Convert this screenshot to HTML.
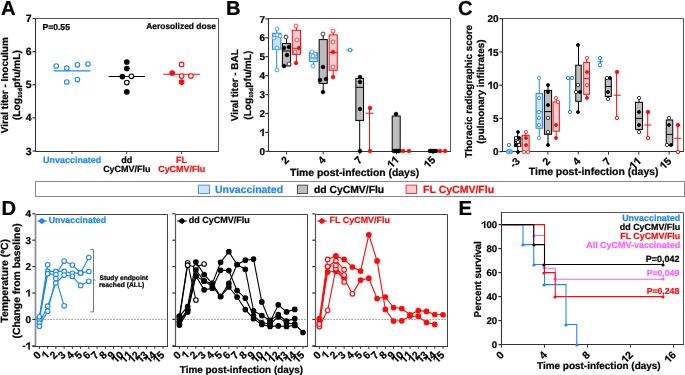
<!DOCTYPE html>
<html><head><meta charset="utf-8"><style>
html,body{margin:0;padding:0;background:#fff;}
svg{display:block;}
#w{will-change:transform;width:685px;height:375px;overflow:hidden;}
text{font-family:"Liberation Sans", sans-serif;text-rendering:geometricPrecision;}
</style></head><body><div id="w">
<svg width="685" height="375" viewBox="0 0 685 375" font-family='"Liberation Sans", sans-serif'>
<rect x="0" y="0" width="685" height="375" fill="#fff"/>
<text x="1" y="14.8" font-size="20.2" fill="#000" text-anchor="start" font-weight="bold"  stroke="#000" stroke-width="0.22">A</text>
<text x="226" y="14.6" font-size="20.2" fill="#000" text-anchor="start" font-weight="bold"  stroke="#000" stroke-width="0.22">B</text>
<text x="458" y="14.8" font-size="20.2" fill="#000" text-anchor="start" font-weight="bold"  stroke="#000" stroke-width="0.22">C</text>
<text x="1.5" y="214.8" font-size="20.2" fill="#000" text-anchor="start" font-weight="bold"  stroke="#000" stroke-width="0.22">D</text>
<text x="458.5" y="214.9" font-size="20.2" fill="#000" text-anchor="start" font-weight="bold"  stroke="#000" stroke-width="0.22">E</text>
<line x1="35.5" y1="18.5" x2="218.5" y2="18.5" stroke="#555" stroke-width="1" />
<line x1="218.5" y1="18.5" x2="218.5" y2="151.5" stroke="#555" stroke-width="1" />
<line x1="35.5" y1="18" x2="35.5" y2="152" stroke="#333" stroke-width="1.1" />
<line x1="35" y1="151.5" x2="219" y2="151.5" stroke="#333" stroke-width="1.1" />
<line x1="32.5" y1="151" x2="35.5" y2="151" stroke="#333" stroke-width="1.2" />
<g transform="translate(31.5 154.6)"><text x="-5.84" y="0" font-size="10.5" font-weight="bold" fill="#000" stroke="#000" stroke-width="0.22">3</text></g>
<line x1="32.5" y1="117.88" x2="35.5" y2="117.88" stroke="#333" stroke-width="1.2" />
<g transform="translate(31.5 121.47)"><text x="-5.84" y="0" font-size="10.5" font-weight="bold" fill="#000" stroke="#000" stroke-width="0.22">4</text></g>
<line x1="32.5" y1="84.75" x2="35.5" y2="84.75" stroke="#333" stroke-width="1.2" />
<g transform="translate(31.5 88.35)"><text x="-5.84" y="0" font-size="10.5" font-weight="bold" fill="#000" stroke="#000" stroke-width="0.22">5</text></g>
<line x1="32.5" y1="51.62" x2="35.5" y2="51.62" stroke="#333" stroke-width="1.2" />
<g transform="translate(31.5 55.23)"><text x="-5.84" y="0" font-size="10.5" font-weight="bold" fill="#000" stroke="#000" stroke-width="0.22">6</text></g>
<line x1="32.5" y1="18.5" x2="35.5" y2="18.5" stroke="#333" stroke-width="1.2" />
<g transform="translate(31.5 22.1)"><text x="-5.84" y="0" font-size="10.5" font-weight="bold" fill="#000" stroke="#000" stroke-width="0.22">7</text></g>
<line x1="72" y1="151" x2="72" y2="154" stroke="#333" stroke-width="1" />
<line x1="126.7" y1="151" x2="126.7" y2="154" stroke="#333" stroke-width="1" />
<line x1="181.6" y1="151" x2="181.6" y2="154" stroke="#333" stroke-width="1" />
<text x="42.44" y="29.8" font-size="8.6" font-weight="bold" fill="#000" stroke="#000" stroke-width="0.22">P=0.55</text>
<text x="146.19" y="29.4" font-size="8.45" font-weight="bold" fill="#000" stroke="#000" stroke-width="0.22">Aerosolized dose</text>
<text transform="translate(8 133.3) rotate(-90)" x="0" y="0" font-size="9.96" font-weight="bold" fill="#000" stroke="#000" stroke-width="0.22">Viral titer - Inoculum</text>
<text transform="translate(20.2 120.11) rotate(-90)" x="0" y="0" font-size="10.23" font-weight="bold" stroke="#000" stroke-width="0.22">(Log<tspan font-size="5.83" dy="2.05">10d</tspan><tspan dy="-2.05" dx="0.31">pfu/mL)</tspan></text>
<text x="43.06" y="162.8" font-size="8.96" font-weight="bold" fill="#1a87ff" stroke="#1a87ff" stroke-width="0.22">Unvaccinated</text>
<text x="121.32" y="162.8" font-size="9" font-weight="bold" fill="#000" stroke="#000" stroke-width="0.22">dd</text>
<text x="103.14" y="172.3" font-size="8.99" font-weight="bold" fill="#000" stroke="#000" stroke-width="0.22">CyCMV/Flu</text>
<text x="175.95" y="162.8" font-size="9" font-weight="bold" fill="#ff0a0a" stroke="#ff0a0a" stroke-width="0.22">FL</text>
<text x="158.24" y="172.3" font-size="8.92" font-weight="bold" fill="#ff0a0a" stroke="#ff0a0a" stroke-width="0.22">CyCMV/Flu</text>
<line x1="54" y1="70.8" x2="90.4" y2="70.8" stroke="#1a87ff" stroke-width="1.3" />
<circle cx="56.2" cy="66" r="2.3" stroke="#1a87ff" fill="#fff" stroke-width="1.1"/>
<circle cx="66.8" cy="68.2" r="2.3" stroke="#1a87ff" fill="#fff" stroke-width="1.1"/>
<circle cx="77.4" cy="64.8" r="2.3" stroke="#1a87ff" fill="#fff" stroke-width="1.1"/>
<circle cx="88" cy="64" r="2.3" stroke="#1a87ff" fill="#fff" stroke-width="1.1"/>
<circle cx="66.8" cy="82" r="2.3" stroke="#1a87ff" fill="#fff" stroke-width="1.1"/>
<circle cx="77.4" cy="79.6" r="2.3" stroke="#1a87ff" fill="#fff" stroke-width="1.1"/>
<line x1="108.8" y1="76.5" x2="145" y2="76.5" stroke="#000" stroke-width="1.1" />
<circle cx="126.8" cy="62" r="2.3" stroke="#000" fill="#000" stroke-width="1.1"/>
<circle cx="126.8" cy="68.5" r="2.3" stroke="#000" fill="#000" stroke-width="1.1"/>
<circle cx="122.4" cy="76.6" r="2.3" stroke="#000" fill="#000" stroke-width="1.1"/>
<circle cx="131.4" cy="76.3" r="2.3" stroke="#000" fill="#fff" stroke-width="1.1"/>
<circle cx="126.8" cy="82.6" r="2.3" stroke="#000" fill="#fff" stroke-width="1.1"/>
<circle cx="126.8" cy="91.8" r="2.3" stroke="#000" fill="#000" stroke-width="1.1"/>
<line x1="163.2" y1="74.2" x2="200" y2="74.2" stroke="#ff0a0a" stroke-width="1.1" />
<circle cx="181.6" cy="64.4" r="2.3" stroke="#ff0a0a" fill="#fff" stroke-width="1.1"/>
<circle cx="172.2" cy="73" r="2.3" stroke="#ff0a0a" fill="#ff0a0a" stroke-width="1.1"/>
<circle cx="181.6" cy="76.1" r="2.3" stroke="#ff0a0a" fill="#fff" stroke-width="1.1"/>
<circle cx="190.9" cy="76.1" r="2.3" stroke="#ff0a0a" fill="#fff" stroke-width="1.1"/>
<circle cx="181.6" cy="82.1" r="2.3" stroke="#ff0a0a" fill="#ff0a0a" stroke-width="1.1"/>
<line x1="268.5" y1="18.5" x2="450.5" y2="18.5" stroke="#555" stroke-width="1" />
<line x1="450.5" y1="18.5" x2="450.5" y2="151.5" stroke="#555" stroke-width="1" />
<line x1="268.5" y1="18" x2="268.5" y2="152" stroke="#333" stroke-width="1.1" />
<line x1="268" y1="151.5" x2="451" y2="151.5" stroke="#333" stroke-width="1.1" />
<line x1="265.3" y1="151.3" x2="268.3" y2="151.3" stroke="#333" stroke-width="1.2" />
<g transform="translate(265 154.9)"><text x="-5.56" y="0" font-size="10" font-weight="bold" fill="#000" stroke="#000" stroke-width="0.22">0</text></g>
<line x1="265.3" y1="132.39" x2="268.3" y2="132.39" stroke="#333" stroke-width="1.2" />
<g transform="translate(265 135.99)"><polygon points="-2.64,0 -1.24,0 -1.24,-7.16 -2.11,-7.16 -4.94,-5.25 -4.94,-3.98 -2.64,-5.52" fill="#000" stroke="#000" stroke-width="0.22"/></g>
<line x1="265.3" y1="113.47" x2="268.3" y2="113.47" stroke="#333" stroke-width="1.2" />
<g transform="translate(265 117.07)"><text x="-5.56" y="0" font-size="10" font-weight="bold" fill="#000" stroke="#000" stroke-width="0.22">2</text></g>
<line x1="265.3" y1="94.56" x2="268.3" y2="94.56" stroke="#333" stroke-width="1.2" />
<g transform="translate(265 98.16)"><text x="-5.56" y="0" font-size="10" font-weight="bold" fill="#000" stroke="#000" stroke-width="0.22">3</text></g>
<line x1="265.3" y1="75.64" x2="268.3" y2="75.64" stroke="#333" stroke-width="1.2" />
<g transform="translate(265 79.24)"><text x="-5.56" y="0" font-size="10" font-weight="bold" fill="#000" stroke="#000" stroke-width="0.22">4</text></g>
<line x1="265.3" y1="56.73" x2="268.3" y2="56.73" stroke="#333" stroke-width="1.2" />
<g transform="translate(265 60.33)"><text x="-5.56" y="0" font-size="10" font-weight="bold" fill="#000" stroke="#000" stroke-width="0.22">5</text></g>
<line x1="265.3" y1="37.81" x2="268.3" y2="37.81" stroke="#333" stroke-width="1.2" />
<g transform="translate(265 41.41)"><text x="-5.56" y="0" font-size="10" font-weight="bold" fill="#000" stroke="#000" stroke-width="0.22">6</text></g>
<line x1="265.3" y1="18.9" x2="268.3" y2="18.9" stroke="#333" stroke-width="1.2" />
<g transform="translate(265 22.5)"><text x="-5.56" y="0" font-size="10" font-weight="bold" fill="#000" stroke="#000" stroke-width="0.22">7</text></g>
<line x1="286.6" y1="151.3" x2="286.6" y2="154.3" stroke="#333" stroke-width="1" />
<g transform="translate(289.7 160.75) rotate(-45)"><text x="-5.84" y="0" font-size="10.5" font-weight="bold" fill="#000" stroke="#000" stroke-width="0.22">2</text></g>
<line x1="323.2" y1="151.3" x2="323.2" y2="154.3" stroke="#333" stroke-width="1" />
<g transform="translate(326.3 160.75) rotate(-45)"><text x="-5.84" y="0" font-size="10.5" font-weight="bold" fill="#000" stroke="#000" stroke-width="0.22">4</text></g>
<line x1="359.8" y1="151.3" x2="359.8" y2="154.3" stroke="#333" stroke-width="1" />
<g transform="translate(362.9 160.75) rotate(-45)"><text x="-5.84" y="0" font-size="10.5" font-weight="bold" fill="#000" stroke="#000" stroke-width="0.22">7</text></g>
<line x1="396.4" y1="151.3" x2="396.4" y2="154.3" stroke="#333" stroke-width="1" />
<g transform="translate(399.5 160.75) rotate(-45)"><polygon points="-8.61,0 -7.14,0 -7.14,-7.52 -8.05,-7.52 -11.03,-5.51 -11.03,-4.18 -8.61,-5.8" fill="#000" stroke="#000" stroke-width="0.22"/><polygon points="-2.77,0 -1.3,0 -1.3,-7.52 -2.22,-7.52 -5.19,-5.51 -5.19,-4.18 -2.77,-5.8" fill="#000" stroke="#000" stroke-width="0.22"/></g>
<line x1="433" y1="151.3" x2="433" y2="154.3" stroke="#333" stroke-width="1" />
<g transform="translate(436.1 160.75) rotate(-45)"><polygon points="-8.61,0 -7.14,0 -7.14,-7.52 -8.05,-7.52 -11.03,-5.51 -11.03,-4.18 -8.61,-5.8" fill="#000" stroke="#000" stroke-width="0.22"/><text x="-5.84" y="0" font-size="10.5" font-weight="bold" fill="#000" stroke="#000" stroke-width="0.22">5</text></g>
<text x="290" y="176" font-size="10.4" font-weight="bold" fill="#000" stroke="#000" stroke-width="0.22">Time post-infection (days)</text>
<text transform="translate(238 121.3) rotate(-90)" x="0" y="0" font-size="9.94" font-weight="bold" fill="#000" stroke="#000" stroke-width="0.22">Viral titer - BAL</text>
<text transform="translate(250.5 119.71) rotate(-90)" x="0" y="0" font-size="10.11" font-weight="bold" stroke="#000" stroke-width="0.22">(Log<tspan font-size="5.76" dy="2.02">10d</tspan><tspan dy="-2.02" dx="0.3">pfu/mL)</tspan></text>
<line x1="276.7" y1="29.2" x2="276.7" y2="33.3" stroke="#1a87ff" stroke-width="1" />
<line x1="276.7" y1="49.3" x2="276.7" y2="70.3" stroke="#1a87ff" stroke-width="1" />
<rect x="272.55" y="33.3" width="8.3" height="16" stroke="#1a87ff" fill="#cfe3fb" stroke-width="1"/>
<line x1="272.55" y1="36.5" x2="280.85" y2="36.5" stroke="#1a87ff" stroke-width="1" />
<circle cx="277" cy="29" r="1.95" stroke="#1a87ff" fill="#fff" stroke-width="0.75"/>
<circle cx="277" cy="35" r="1.95" stroke="#1a87ff" fill="#fff" stroke-width="0.75"/>
<circle cx="280" cy="36" r="1.95" stroke="#1a87ff" fill="#fff" stroke-width="0.75"/>
<circle cx="274" cy="38" r="1.95" stroke="#1a87ff" fill="#fff" stroke-width="0.75"/>
<circle cx="277" cy="48" r="1.95" stroke="#1a87ff" fill="#fff" stroke-width="0.75"/>
<circle cx="277" cy="70" r="1.95" stroke="#1a87ff" fill="#fff" stroke-width="0.75"/>
<line x1="286.5" y1="36.6" x2="286.5" y2="43.5" stroke="#000" stroke-width="1" />
<rect x="282.4" y="43.5" width="8.2" height="22.4" stroke="#000" fill="#bdbdbd" stroke-width="1"/>
<line x1="282.4" y1="51" x2="290.6" y2="51" stroke="#000" stroke-width="1" />
<circle cx="286" cy="37" r="1.95" stroke="#000" fill="#fff" stroke-width="0.75"/>
<circle cx="284" cy="48" r="1.8499999999999999" stroke="#000" fill="#000" stroke-width="0.75"/>
<circle cx="289" cy="47" r="1.8499999999999999" stroke="#000" fill="#000" stroke-width="0.75"/>
<circle cx="287" cy="55" r="1.8499999999999999" stroke="#000" fill="#000" stroke-width="0.75"/>
<circle cx="284" cy="66" r="1.8499999999999999" stroke="#000" fill="#000" stroke-width="0.75"/>
<circle cx="289" cy="64" r="1.95" stroke="#000" fill="#fff" stroke-width="0.75"/>
<line x1="296.4" y1="25.9" x2="296.4" y2="30.3" stroke="#ff0a0a" stroke-width="1" />
<line x1="296.4" y1="54.3" x2="296.4" y2="62.6" stroke="#ff0a0a" stroke-width="1" />
<rect x="292.3" y="30.3" width="8.2" height="24" stroke="#ff0a0a" fill="#fbcfd1" stroke-width="1"/>
<line x1="292.3" y1="48.3" x2="300.5" y2="48.3" stroke="#ff0a0a" stroke-width="1" />
<circle cx="296" cy="26" r="1.95" stroke="#ff0a0a" fill="#fff" stroke-width="0.75"/>
<circle cx="297" cy="40" r="1.95" stroke="#ff0a0a" fill="#fff" stroke-width="0.75"/>
<circle cx="299" cy="48" r="1.8499999999999999" stroke="#ff0a0a" fill="#ff0a0a" stroke-width="0.75"/>
<circle cx="295" cy="52" r="1.95" stroke="#ff0a0a" fill="#fff" stroke-width="0.75"/>
<circle cx="296" cy="63" r="1.8499999999999999" stroke="#ff0a0a" fill="#ff0a0a" stroke-width="0.75"/>
<line x1="313.4" y1="61.6" x2="313.4" y2="66.5" stroke="#1a87ff" stroke-width="1" />
<rect x="309.45" y="52.4" width="7.9" height="9.2" stroke="#1a87ff" fill="#cfe3fb" stroke-width="1"/>
<line x1="309.45" y1="58" x2="317.35" y2="58" stroke="#1a87ff" stroke-width="1" />
<circle cx="312" cy="52" r="1.95" stroke="#1a87ff" fill="#fff" stroke-width="0.75"/>
<circle cx="315" cy="54" r="1.95" stroke="#1a87ff" fill="#fff" stroke-width="0.75"/>
<circle cx="313" cy="56" r="1.95" stroke="#1a87ff" fill="#fff" stroke-width="0.75"/>
<circle cx="313" cy="66" r="1.95" stroke="#1a87ff" fill="#fff" stroke-width="0.75"/>
<line x1="323.2" y1="33.9" x2="323.2" y2="39.6" stroke="#000" stroke-width="1" />
<line x1="323.2" y1="83.4" x2="323.2" y2="92.5" stroke="#000" stroke-width="1" />
<rect x="319.15" y="39.6" width="8.1" height="43.8" stroke="#000" fill="#bdbdbd" stroke-width="1"/>
<circle cx="323" cy="34" r="1.95" stroke="#000" fill="#fff" stroke-width="0.75"/>
<circle cx="323" cy="67" r="1.8499999999999999" stroke="#000" fill="#000" stroke-width="0.75"/>
<circle cx="320" cy="80" r="1.8499999999999999" stroke="#000" fill="#000" stroke-width="0.75"/>
<circle cx="326" cy="79" r="1.8499999999999999" stroke="#000" fill="#000" stroke-width="0.75"/>
<circle cx="323" cy="92" r="1.8499999999999999" stroke="#000" fill="#000" stroke-width="0.75"/>
<line x1="333.2" y1="30.7" x2="333.2" y2="34.9" stroke="#ff0a0a" stroke-width="1" />
<line x1="333.2" y1="70.3" x2="333.2" y2="77.2" stroke="#ff0a0a" stroke-width="1" />
<rect x="329.15" y="34.9" width="8.1" height="35.4" stroke="#ff0a0a" fill="#fbcfd1" stroke-width="1"/>
<line x1="329.15" y1="52.4" x2="337.25" y2="52.4" stroke="#ff0a0a" stroke-width="1" />
<circle cx="333" cy="31" r="1.95" stroke="#ff0a0a" fill="#fff" stroke-width="0.75"/>
<circle cx="333" cy="42" r="1.95" stroke="#ff0a0a" fill="#fff" stroke-width="0.75"/>
<circle cx="333" cy="52" r="1.8499999999999999" stroke="#ff0a0a" fill="#ff0a0a" stroke-width="0.75"/>
<circle cx="333" cy="67" r="1.95" stroke="#ff0a0a" fill="#fff" stroke-width="0.75"/>
<circle cx="333" cy="77" r="1.8499999999999999" stroke="#ff0a0a" fill="#ff0a0a" stroke-width="0.75"/>
<line x1="346.3" y1="49.9" x2="353.3" y2="49.9" stroke="#1a87ff" stroke-width="1" />
<circle cx="350" cy="50" r="1.8" stroke="#1a87ff" fill="#fff" stroke-width="1"/>
<line x1="359.7" y1="76.7" x2="359.7" y2="78.4" stroke="#000" stroke-width="1" />
<line x1="359.7" y1="120.4" x2="359.7" y2="151.3" stroke="#000" stroke-width="1" />
<rect x="355.85" y="78.4" width="7.7" height="42" stroke="#000" fill="#bdbdbd" stroke-width="1"/>
<line x1="355.85" y1="87.3" x2="363.55" y2="87.3" stroke="#000" stroke-width="1" />
<circle cx="360" cy="77" r="1.8499999999999999" stroke="#000" fill="#000" stroke-width="0.75"/>
<circle cx="360" cy="82" r="1.8499999999999999" stroke="#000" fill="#000" stroke-width="0.75"/>
<circle cx="360" cy="109" r="1.8499999999999999" stroke="#000" fill="#000" stroke-width="0.75"/>
<circle cx="360" cy="151" r="1.8499999999999999" stroke="#000" fill="#000" stroke-width="0.75"/>
<line x1="369.5" y1="107.7" x2="369.5" y2="151.3" stroke="#ff0a0a" stroke-width="1" />
<line x1="365.7" y1="113.2" x2="373.6" y2="113.2" stroke="#ff0a0a" stroke-width="1" />
<circle cx="370" cy="108" r="1.8" stroke="#ff0a0a" fill="#ff0a0a" stroke-width="1"/>
<circle cx="370" cy="151" r="1.8" stroke="#ff0a0a" fill="#ff0a0a" stroke-width="1"/>
<line x1="396.2" y1="113.6" x2="396.2" y2="116" stroke="#000" stroke-width="1" />
<rect x="392.2" y="116" width="8" height="35.3" stroke="#000" fill="#bdbdbd" stroke-width="1"/>
<circle cx="396" cy="114" r="1.8499999999999999" stroke="#000" fill="#000" stroke-width="0.75"/>
<circle cx="394" cy="151" r="1.8499999999999999" stroke="#000" fill="#000" stroke-width="0.75"/>
<circle cx="396" cy="151" r="1.8499999999999999" stroke="#000" fill="#000" stroke-width="0.75"/>
<circle cx="398" cy="151" r="1.8499999999999999" stroke="#000" fill="#000" stroke-width="0.75"/>
<circle cx="399" cy="151" r="1.8499999999999999" stroke="#000" fill="#000" stroke-width="0.75"/>
<circle cx="403" cy="151" r="1.8" stroke="#ff0a0a" fill="#ff0a0a" stroke-width="1"/>
<circle cx="409" cy="151" r="1.8" stroke="#ff0a0a" fill="#ff0a0a" stroke-width="1"/>
<circle cx="430" cy="151" r="1.8" stroke="#000" fill="#000" stroke-width="1"/>
<circle cx="432" cy="151" r="1.8" stroke="#000" fill="#000" stroke-width="1"/>
<circle cx="434" cy="151" r="1.8" stroke="#000" fill="#000" stroke-width="1"/>
<circle cx="436" cy="151" r="1.8" stroke="#000" fill="#000" stroke-width="1"/>
<circle cx="440" cy="151" r="1.8" stroke="#ff0a0a" fill="#ff0a0a" stroke-width="1"/>
<circle cx="445" cy="151" r="1.8" stroke="#ff0a0a" fill="#ff0a0a" stroke-width="1"/>
<line x1="502.5" y1="18.5" x2="683.5" y2="18.5" stroke="#555" stroke-width="1" />
<line x1="683.5" y1="18.5" x2="683.5" y2="151.5" stroke="#555" stroke-width="1" />
<line x1="502.5" y1="18" x2="502.5" y2="152" stroke="#333" stroke-width="1.1" />
<line x1="502" y1="151.5" x2="684" y2="151.5" stroke="#333" stroke-width="1.1" />
<line x1="499.4" y1="151.6" x2="502.4" y2="151.6" stroke="#333" stroke-width="1.2" />
<g transform="translate(498.6 155.2)"><text x="-5.56" y="0" font-size="10" font-weight="bold" fill="#000" stroke="#000" stroke-width="0.22">0</text></g>
<line x1="499.4" y1="118.38" x2="502.4" y2="118.38" stroke="#333" stroke-width="1.2" />
<g transform="translate(498.6 121.97)"><text x="-5.56" y="0" font-size="10" font-weight="bold" fill="#000" stroke="#000" stroke-width="0.22">5</text></g>
<line x1="499.4" y1="85.15" x2="502.4" y2="85.15" stroke="#333" stroke-width="1.2" />
<g transform="translate(498.6 88.75)"><polygon points="-8.2,0 -6.8,0 -6.8,-7.16 -7.67,-7.16 -10.5,-5.25 -10.5,-3.98 -8.2,-5.52" fill="#000" stroke="#000" stroke-width="0.22"/><text x="-5.56" y="0" font-size="10" font-weight="bold" fill="#000" stroke="#000" stroke-width="0.22">0</text></g>
<line x1="499.4" y1="51.92" x2="502.4" y2="51.92" stroke="#333" stroke-width="1.2" />
<g transform="translate(498.6 55.52)"><polygon points="-8.2,0 -6.8,0 -6.8,-7.16 -7.67,-7.16 -10.5,-5.25 -10.5,-3.98 -8.2,-5.52" fill="#000" stroke="#000" stroke-width="0.22"/><text x="-5.56" y="0" font-size="10" font-weight="bold" fill="#000" stroke="#000" stroke-width="0.22">5</text></g>
<line x1="499.4" y1="18.7" x2="502.4" y2="18.7" stroke="#333" stroke-width="1.2" />
<g transform="translate(498.6 22.3)"><text x="-11.12" y="0" font-size="10" font-weight="bold" fill="#000" stroke="#000" stroke-width="0.22">2</text><text x="-5.56" y="0" font-size="10" font-weight="bold" fill="#000" stroke="#000" stroke-width="0.22">0</text></g>
<line x1="517.6" y1="151.6" x2="517.6" y2="154.6" stroke="#333" stroke-width="1" />
<g transform="translate(520.5 161.95) rotate(-45)"><text x="-9.33" y="0" font-size="10.5" font-weight="bold" fill="#000" stroke="#000" stroke-width="0.22">-</text><text x="-5.84" y="0" font-size="10.5" font-weight="bold" fill="#000" stroke="#000" stroke-width="0.22">3</text></g>
<line x1="547.9" y1="151.6" x2="547.9" y2="154.6" stroke="#333" stroke-width="1" />
<g transform="translate(550.8 161.95) rotate(-45)"><text x="-5.84" y="0" font-size="10.5" font-weight="bold" fill="#000" stroke="#000" stroke-width="0.22">2</text></g>
<line x1="578.2" y1="151.6" x2="578.2" y2="154.6" stroke="#333" stroke-width="1" />
<g transform="translate(581.1 161.95) rotate(-45)"><text x="-5.84" y="0" font-size="10.5" font-weight="bold" fill="#000" stroke="#000" stroke-width="0.22">4</text></g>
<line x1="608.5" y1="151.6" x2="608.5" y2="154.6" stroke="#333" stroke-width="1" />
<g transform="translate(611.4 161.95) rotate(-45)"><text x="-5.84" y="0" font-size="10.5" font-weight="bold" fill="#000" stroke="#000" stroke-width="0.22">7</text></g>
<line x1="638.8" y1="151.6" x2="638.8" y2="154.6" stroke="#333" stroke-width="1" />
<g transform="translate(641.7 161.95) rotate(-45)"><polygon points="-8.61,0 -7.14,0 -7.14,-7.52 -8.05,-7.52 -11.03,-5.51 -11.03,-4.18 -8.61,-5.8" fill="#000" stroke="#000" stroke-width="0.22"/><polygon points="-2.77,0 -1.3,0 -1.3,-7.52 -2.22,-7.52 -5.19,-5.51 -5.19,-4.18 -2.77,-5.8" fill="#000" stroke="#000" stroke-width="0.22"/></g>
<line x1="669.1" y1="151.6" x2="669.1" y2="154.6" stroke="#333" stroke-width="1" />
<g transform="translate(672 161.95) rotate(-45)"><polygon points="-8.61,0 -7.14,0 -7.14,-7.52 -8.05,-7.52 -11.03,-5.51 -11.03,-4.18 -8.61,-5.8" fill="#000" stroke="#000" stroke-width="0.22"/><text x="-5.84" y="0" font-size="10.5" font-weight="bold" fill="#000" stroke="#000" stroke-width="0.22">5</text></g>
<text x="528.8" y="175.2" font-size="10.44" font-weight="bold" fill="#000" stroke="#000" stroke-width="0.22">Time post-infection (days)</text>
<text transform="translate(472 157.7) rotate(-90)" x="0" y="0" font-size="9.88" font-weight="bold" fill="#000" stroke="#000" stroke-width="0.22">Thoracic radiographic score</text>
<text transform="translate(484 143.69) rotate(-90)" x="0" y="0" font-size="9.89" font-weight="bold" fill="#000" stroke="#000" stroke-width="0.22">(pulmonary infiltrates)</text>
<rect x="506.3" y="149.8" width="6.2" height="3.4" rx="1.7" stroke="#1a87ff" fill="#cfe3fb" stroke-width="1"/>
<circle cx="509" cy="145" r="1.7" stroke="#1a87ff" fill="#fff" stroke-width="1"/>
<circle cx="508" cy="152" r="1.3" stroke="#1a87ff" fill="#fff" stroke-width="1"/>
<circle cx="511" cy="152" r="1.3" stroke="#1a87ff" fill="#fff" stroke-width="1"/>
<line x1="517.7" y1="131.8" x2="517.7" y2="137.2" stroke="#000" stroke-width="1" />
<line x1="517.7" y1="146.4" x2="517.7" y2="151.6" stroke="#000" stroke-width="1" />
<rect x="514.6" y="137.2" width="6.2" height="9.2" stroke="#000" fill="#bdbdbd" stroke-width="1"/>
<line x1="514.6" y1="141.6" x2="520.8" y2="141.6" stroke="#000" stroke-width="1" />
<circle cx="518" cy="132" r="1.5" stroke="#000" fill="#000" stroke-width="0.75"/>
<circle cx="516" cy="138" r="1.6" stroke="#000" fill="#fff" stroke-width="0.75"/>
<circle cx="519" cy="138" r="1.5" stroke="#000" fill="#000" stroke-width="0.75"/>
<circle cx="518" cy="142" r="1.6" stroke="#000" fill="#fff" stroke-width="0.75"/>
<circle cx="516" cy="145" r="1.5" stroke="#000" fill="#000" stroke-width="0.75"/>
<circle cx="519" cy="145" r="1.6" stroke="#000" fill="#fff" stroke-width="0.75"/>
<circle cx="518" cy="152" r="1.5" stroke="#000" fill="#000" stroke-width="0.75"/>
<line x1="525.7" y1="131.8" x2="525.7" y2="135.4" stroke="#ff0a0a" stroke-width="1" />
<rect x="522.25" y="135.4" width="6.9" height="16.2" stroke="#ff0a0a" fill="#fbcfd1" stroke-width="1"/>
<circle cx="526" cy="132" r="1.7" stroke="#ff0a0a" fill="#fff" stroke-width="0.75"/>
<circle cx="526" cy="138" r="1.5999999999999999" stroke="#ff0a0a" fill="#ff0a0a" stroke-width="0.75"/>
<circle cx="526" cy="145" r="1.5999999999999999" stroke="#ff0a0a" fill="#ff0a0a" stroke-width="0.75"/>
<circle cx="524" cy="152" r="1.7" stroke="#ff0a0a" fill="#fff" stroke-width="0.75"/>
<circle cx="528" cy="152" r="1.7" stroke="#ff0a0a" fill="#fff" stroke-width="0.75"/>
<line x1="539.3" y1="78.5" x2="539.3" y2="93.5" stroke="#1a87ff" stroke-width="1" />
<line x1="539.3" y1="128.2" x2="539.3" y2="138.3" stroke="#1a87ff" stroke-width="1" />
<rect x="536.05" y="93.5" width="6.5" height="34.7" stroke="#1a87ff" fill="#cfe3fb" stroke-width="1"/>
<line x1="536.05" y1="111.7" x2="542.55" y2="111.7" stroke="#1a87ff" stroke-width="1" />
<circle cx="539" cy="78" r="1.7" stroke="#1a87ff" fill="#fff" stroke-width="0.75"/>
<circle cx="539" cy="98" r="1.7" stroke="#1a87ff" fill="#fff" stroke-width="0.75"/>
<circle cx="539" cy="112" r="1.7" stroke="#1a87ff" fill="#fff" stroke-width="0.75"/>
<circle cx="539" cy="118" r="1.7" stroke="#1a87ff" fill="#fff" stroke-width="0.75"/>
<circle cx="539" cy="125" r="1.7" stroke="#1a87ff" fill="#fff" stroke-width="0.75"/>
<circle cx="539" cy="138" r="1.7" stroke="#1a87ff" fill="#fff" stroke-width="0.75"/>
<line x1="548" y1="85.1" x2="548" y2="90.4" stroke="#000" stroke-width="1" />
<line x1="548" y1="134.3" x2="548" y2="145" stroke="#000" stroke-width="1" />
<rect x="544.4" y="90.4" width="7.2" height="43.9" stroke="#000" fill="#bdbdbd" stroke-width="1"/>
<line x1="544.4" y1="111.6" x2="551.6" y2="111.6" stroke="#000" stroke-width="1" />
<circle cx="548" cy="85" r="1.5999999999999999" stroke="#000" fill="#000" stroke-width="0.75"/>
<circle cx="548" cy="92" r="1.5999999999999999" stroke="#000" fill="#000" stroke-width="0.75"/>
<circle cx="548" cy="105" r="1.5999999999999999" stroke="#000" fill="#000" stroke-width="0.75"/>
<circle cx="548" cy="118" r="1.7" stroke="#000" fill="#fff" stroke-width="0.75"/>
<circle cx="548" cy="132" r="1.7" stroke="#000" fill="#fff" stroke-width="0.75"/>
<circle cx="548" cy="145" r="1.5999999999999999" stroke="#000" fill="#000" stroke-width="0.75"/>
<line x1="556.2" y1="98.4" x2="556.2" y2="101.9" stroke="#ff0a0a" stroke-width="1" />
<line x1="556.2" y1="131.2" x2="556.2" y2="138.3" stroke="#ff0a0a" stroke-width="1" />
<rect x="553.05" y="101.9" width="6.3" height="29.3" stroke="#ff0a0a" fill="#fbcfd1" stroke-width="1"/>
<circle cx="556" cy="98" r="1.7" stroke="#ff0a0a" fill="#fff" stroke-width="0.75"/>
<circle cx="558" cy="102" r="1.7" stroke="#ff0a0a" fill="#fff" stroke-width="0.75"/>
<circle cx="556" cy="125" r="1.5999999999999999" stroke="#ff0a0a" fill="#ff0a0a" stroke-width="0.75"/>
<circle cx="556" cy="138" r="1.5999999999999999" stroke="#ff0a0a" fill="#ff0a0a" stroke-width="0.75"/>
<line x1="569.8" y1="78.5" x2="569.8" y2="111.7" stroke="#1a87ff" stroke-width="1" />
<circle cx="568" cy="78" r="1.7" stroke="#1a87ff" fill="#fff" stroke-width="1"/>
<circle cx="572" cy="78" r="1.7" stroke="#1a87ff" fill="#fff" stroke-width="1"/>
<circle cx="570" cy="112" r="1.7" stroke="#1a87ff" fill="#fff" stroke-width="1"/>
<line x1="578.5" y1="45.3" x2="578.5" y2="65.2" stroke="#000" stroke-width="1" />
<line x1="578.5" y1="101.3" x2="578.5" y2="111.7" stroke="#000" stroke-width="1" />
<rect x="575.75" y="65.2" width="5.5" height="36.1" stroke="#000" fill="#bdbdbd" stroke-width="1"/>
<line x1="575.75" y1="92.4" x2="581.25" y2="92.4" stroke="#000" stroke-width="1" />
<circle cx="578" cy="45" r="1.5999999999999999" stroke="#000" fill="#000" stroke-width="0.75"/>
<circle cx="578" cy="85" r="1.7" stroke="#000" fill="#fff" stroke-width="0.75"/>
<circle cx="576" cy="92" r="1.7" stroke="#000" fill="#fff" stroke-width="0.75"/>
<circle cx="580" cy="92" r="1.5999999999999999" stroke="#000" fill="#000" stroke-width="0.75"/>
<circle cx="578" cy="112" r="1.5999999999999999" stroke="#000" fill="#000" stroke-width="0.75"/>
<line x1="586.6" y1="58.3" x2="586.6" y2="62.4" stroke="#ff0a0a" stroke-width="1" />
<line x1="586.6" y1="94.3" x2="586.6" y2="98.4" stroke="#ff0a0a" stroke-width="1" />
<rect x="583.7" y="62.4" width="5.8" height="31.9" stroke="#ff0a0a" fill="#fbcfd1" stroke-width="1"/>
<line x1="583.7" y1="78.5" x2="589.5" y2="78.5" stroke="#ff0a0a" stroke-width="1" />
<circle cx="587" cy="58" r="1.7" stroke="#ff0a0a" fill="#fff" stroke-width="0.75"/>
<circle cx="587" cy="72" r="1.5999999999999999" stroke="#ff0a0a" fill="#ff0a0a" stroke-width="0.75"/>
<circle cx="587" cy="85" r="1.7" stroke="#ff0a0a" fill="#fff" stroke-width="0.75"/>
<circle cx="587" cy="98" r="1.5999999999999999" stroke="#ff0a0a" fill="#ff0a0a" stroke-width="0.75"/>
<line x1="600.5" y1="58.3" x2="600.5" y2="65" stroke="#1a87ff" stroke-width="1" />
<line x1="597.8" y1="61.7" x2="603.2" y2="61.7" stroke="#1a87ff" stroke-width="1" />
<circle cx="600" cy="58" r="1.7" stroke="#1a87ff" fill="#fff" stroke-width="1"/>
<circle cx="600" cy="65" r="1.7" stroke="#1a87ff" fill="#fff" stroke-width="1"/>
<line x1="608.3" y1="96.5" x2="608.3" y2="98.9" stroke="#000" stroke-width="1" />
<rect x="605.3" y="78.5" width="6" height="18" stroke="#000" fill="#bdbdbd" stroke-width="1"/>
<line x1="605.3" y1="86.5" x2="611.3" y2="86.5" stroke="#000" stroke-width="1" />
<circle cx="607" cy="78" r="1.7" stroke="#000" fill="#fff" stroke-width="0.75"/>
<circle cx="610" cy="78" r="1.5999999999999999" stroke="#000" fill="#000" stroke-width="0.75"/>
<circle cx="608" cy="92" r="1.5999999999999999" stroke="#000" fill="#000" stroke-width="0.75"/>
<circle cx="608" cy="99" r="1.7" stroke="#000" fill="#fff" stroke-width="0.75"/>
<line x1="616.6" y1="71.9" x2="616.6" y2="118.4" stroke="#ff0a0a" stroke-width="1" />
<line x1="613.7" y1="95.2" x2="620.7" y2="95.2" stroke="#ff0a0a" stroke-width="1" />
<circle cx="617" cy="72" r="1.7" stroke="#ff0a0a" fill="#ff0a0a" stroke-width="1"/>
<circle cx="617" cy="118" r="1.7" stroke="#ff0a0a" fill="#fff" stroke-width="1"/>
<line x1="639" y1="98.2" x2="639" y2="102.3" stroke="#000" stroke-width="1" />
<line x1="639" y1="129.4" x2="639" y2="131.9" stroke="#000" stroke-width="1" />
<rect x="635.5" y="102.3" width="7" height="27.1" stroke="#000" fill="#bdbdbd" stroke-width="1"/>
<line x1="635.5" y1="118.4" x2="642.5" y2="118.4" stroke="#000" stroke-width="1" />
<circle cx="639" cy="98" r="1.7" stroke="#000" fill="#fff" stroke-width="0.75"/>
<circle cx="639" cy="112" r="1.5999999999999999" stroke="#000" fill="#000" stroke-width="0.75"/>
<circle cx="639" cy="125" r="1.5999999999999999" stroke="#000" fill="#000" stroke-width="0.75"/>
<circle cx="639" cy="132" r="1.7" stroke="#000" fill="#fff" stroke-width="0.75"/>
<line x1="647.7" y1="111.7" x2="647.7" y2="138.3" stroke="#ff0a0a" stroke-width="1" />
<line x1="644.4" y1="125" x2="651.3" y2="125" stroke="#ff0a0a" stroke-width="1" />
<circle cx="648" cy="112" r="1.7" stroke="#ff0a0a" fill="#ff0a0a" stroke-width="1"/>
<circle cx="648" cy="138" r="1.7" stroke="#ff0a0a" fill="#fff" stroke-width="1"/>
<line x1="669.5" y1="118.4" x2="669.5" y2="120" stroke="#000" stroke-width="1" />
<rect x="666.25" y="120" width="6.5" height="25.3" stroke="#000" fill="#bdbdbd" stroke-width="1"/>
<line x1="666.25" y1="134.4" x2="672.75" y2="134.4" stroke="#000" stroke-width="1" />
<circle cx="669" cy="118" r="1.7" stroke="#000" fill="#fff" stroke-width="0.75"/>
<circle cx="669" cy="125" r="1.5999999999999999" stroke="#000" fill="#000" stroke-width="0.75"/>
<circle cx="667" cy="145" r="1.7" stroke="#000" fill="#fff" stroke-width="0.75"/>
<circle cx="671" cy="145" r="1.5999999999999999" stroke="#000" fill="#000" stroke-width="0.75"/>
<line x1="677.8" y1="125" x2="677.8" y2="151.6" stroke="#ff0a0a" stroke-width="1" />
<line x1="674.3" y1="138.3" x2="681.1" y2="138.3" stroke="#ff0a0a" stroke-width="1" />
<circle cx="678" cy="125" r="1.7" stroke="#ff0a0a" fill="#ff0a0a" stroke-width="1"/>
<circle cx="678" cy="152" r="1.7" stroke="#ff0a0a" fill="#fff" stroke-width="1"/>
<rect x="35.5" y="181.5" width="649" height="15" stroke="#8a8a8a" fill="none" stroke-width="1"/>
<rect x="198.6" y="185.1" width="10.8" height="8.3" stroke="#1a87ff" fill="#cfe3fb" stroke-width="0.8"/>
<text x="215.07" y="192.5" font-size="10.46" font-weight="bold" fill="#1a87ff" stroke="#1a87ff" stroke-width="0.22">Unvaccinated</text>
<rect x="297.4" y="185.1" width="10.2" height="8.3" stroke="#333" fill="#bdbdbd" stroke-width="0.8"/>
<text x="313.99" y="192.5" font-size="10.37" font-weight="bold" fill="#000" stroke="#000" stroke-width="0.22">dd CyCMV/Flu</text>
<rect x="406.1" y="185.1" width="10.5" height="8.3" stroke="#ff0a0a" fill="#fbcfd1" stroke-width="0.8"/>
<text x="423.12" y="192.5" font-size="10.5" font-weight="bold" fill="#ff0a0a" stroke="#ff0a0a" stroke-width="0.22">FL CyCMV/Flu</text>
<line x1="35.5" y1="214.5" x2="167.5" y2="214.5" stroke="#444" stroke-width="1" />
<line x1="167.5" y1="214.5" x2="167.5" y2="346.5" stroke="#444" stroke-width="1" />
<line x1="35.5" y1="214" x2="35.5" y2="347" stroke="#8c8c8c" stroke-width="1.7" />
<line x1="32.5" y1="346.5" x2="168" y2="346.5" stroke="#333" stroke-width="1.1" />
<line x1="32.3" y1="345.8" x2="35.3" y2="345.8" stroke="#333" stroke-width="1.2" />
<g transform="translate(31 349.4)"><text x="-8.89" y="0" font-size="10" font-weight="bold" fill="#000" stroke="#000" stroke-width="0.22">-</text><polygon points="-2.64,0 -1.24,0 -1.24,-7.16 -2.11,-7.16 -4.94,-5.25 -4.94,-3.98 -2.64,-5.52" fill="#000" stroke="#000" stroke-width="0.22"/></g>
<line x1="32.3" y1="319.4" x2="35.3" y2="319.4" stroke="#333" stroke-width="1.2" />
<g transform="translate(31 323)"><text x="-5.56" y="0" font-size="10" font-weight="bold" fill="#000" stroke="#000" stroke-width="0.22">0</text></g>
<line x1="32.3" y1="293" x2="35.3" y2="293" stroke="#333" stroke-width="1.2" />
<g transform="translate(31 296.6)"><polygon points="-2.64,0 -1.24,0 -1.24,-7.16 -2.11,-7.16 -4.94,-5.25 -4.94,-3.98 -2.64,-5.52" fill="#000" stroke="#000" stroke-width="0.22"/></g>
<line x1="32.3" y1="266.6" x2="35.3" y2="266.6" stroke="#333" stroke-width="1.2" />
<g transform="translate(31 270.2)"><text x="-5.56" y="0" font-size="10" font-weight="bold" fill="#000" stroke="#000" stroke-width="0.22">2</text></g>
<line x1="32.3" y1="240.2" x2="35.3" y2="240.2" stroke="#333" stroke-width="1.2" />
<g transform="translate(31 243.8)"><text x="-5.56" y="0" font-size="10" font-weight="bold" fill="#000" stroke="#000" stroke-width="0.22">3</text></g>
<line x1="32.3" y1="213.8" x2="35.3" y2="213.8" stroke="#333" stroke-width="1.2" />
<g transform="translate(31 217.4)"><text x="-5.56" y="0" font-size="10" font-weight="bold" fill="#000" stroke="#000" stroke-width="0.22">4</text></g>
<line x1="35.3" y1="319.4" x2="167.3" y2="319.4" stroke="#777" stroke-width="0.8" stroke-dasharray="1.6 1.4"/>
<line x1="39.4" y1="346.4" x2="39.4" y2="348.9" stroke="#333" stroke-width="1" />
<g transform="translate(41.6 355.6) rotate(-45)"><text x="-5.84" y="0" font-size="10.5" font-weight="bold" fill="#000" stroke="#000" stroke-width="0.22">0</text></g>
<line x1="47.64" y1="346.4" x2="47.64" y2="348.9" stroke="#333" stroke-width="1" />
<g transform="translate(49.84 355.6) rotate(-45)"><polygon points="-2.77,0 -1.3,0 -1.3,-7.52 -2.22,-7.52 -5.19,-5.51 -5.19,-4.18 -2.77,-5.8" fill="#000" stroke="#000" stroke-width="0.22"/></g>
<line x1="55.88" y1="346.4" x2="55.88" y2="348.9" stroke="#333" stroke-width="1" />
<g transform="translate(58.08 355.6) rotate(-45)"><text x="-5.84" y="0" font-size="10.5" font-weight="bold" fill="#000" stroke="#000" stroke-width="0.22">2</text></g>
<line x1="64.12" y1="346.4" x2="64.12" y2="348.9" stroke="#333" stroke-width="1" />
<g transform="translate(66.32 355.6) rotate(-45)"><text x="-5.84" y="0" font-size="10.5" font-weight="bold" fill="#000" stroke="#000" stroke-width="0.22">3</text></g>
<line x1="72.36" y1="346.4" x2="72.36" y2="348.9" stroke="#333" stroke-width="1" />
<g transform="translate(74.56 355.6) rotate(-45)"><text x="-5.84" y="0" font-size="10.5" font-weight="bold" fill="#000" stroke="#000" stroke-width="0.22">4</text></g>
<line x1="80.6" y1="346.4" x2="80.6" y2="348.9" stroke="#333" stroke-width="1" />
<g transform="translate(82.8 355.6) rotate(-45)"><text x="-5.84" y="0" font-size="10.5" font-weight="bold" fill="#000" stroke="#000" stroke-width="0.22">5</text></g>
<line x1="88.84" y1="346.4" x2="88.84" y2="348.9" stroke="#333" stroke-width="1" />
<g transform="translate(91.04 355.6) rotate(-45)"><text x="-5.84" y="0" font-size="10.5" font-weight="bold" fill="#000" stroke="#000" stroke-width="0.22">6</text></g>
<line x1="97.08" y1="346.4" x2="97.08" y2="348.9" stroke="#333" stroke-width="1" />
<g transform="translate(99.28 355.6) rotate(-45)"><text x="-5.84" y="0" font-size="10.5" font-weight="bold" fill="#000" stroke="#000" stroke-width="0.22">7</text></g>
<line x1="105.32" y1="346.4" x2="105.32" y2="348.9" stroke="#333" stroke-width="1" />
<g transform="translate(107.52 355.6) rotate(-45)"><text x="-5.84" y="0" font-size="10.5" font-weight="bold" fill="#000" stroke="#000" stroke-width="0.22">8</text></g>
<line x1="113.56" y1="346.4" x2="113.56" y2="348.9" stroke="#333" stroke-width="1" />
<g transform="translate(115.76 355.6) rotate(-45)"><text x="-5.84" y="0" font-size="10.5" font-weight="bold" fill="#000" stroke="#000" stroke-width="0.22">9</text></g>
<line x1="121.8" y1="346.4" x2="121.8" y2="348.9" stroke="#333" stroke-width="1" />
<g transform="translate(124 355.6) rotate(-45)"><polygon points="-8.61,0 -7.14,0 -7.14,-7.52 -8.05,-7.52 -11.03,-5.51 -11.03,-4.18 -8.61,-5.8" fill="#000" stroke="#000" stroke-width="0.22"/><text x="-5.84" y="0" font-size="10.5" font-weight="bold" fill="#000" stroke="#000" stroke-width="0.22">0</text></g>
<line x1="130.04" y1="346.4" x2="130.04" y2="348.9" stroke="#333" stroke-width="1" />
<g transform="translate(132.24 355.6) rotate(-45)"><polygon points="-8.61,0 -7.14,0 -7.14,-7.52 -8.05,-7.52 -11.03,-5.51 -11.03,-4.18 -8.61,-5.8" fill="#000" stroke="#000" stroke-width="0.22"/><polygon points="-2.77,0 -1.3,0 -1.3,-7.52 -2.22,-7.52 -5.19,-5.51 -5.19,-4.18 -2.77,-5.8" fill="#000" stroke="#000" stroke-width="0.22"/></g>
<line x1="138.28" y1="346.4" x2="138.28" y2="348.9" stroke="#333" stroke-width="1" />
<g transform="translate(140.48 355.6) rotate(-45)"><polygon points="-8.61,0 -7.14,0 -7.14,-7.52 -8.05,-7.52 -11.03,-5.51 -11.03,-4.18 -8.61,-5.8" fill="#000" stroke="#000" stroke-width="0.22"/><text x="-5.84" y="0" font-size="10.5" font-weight="bold" fill="#000" stroke="#000" stroke-width="0.22">2</text></g>
<line x1="146.52" y1="346.4" x2="146.52" y2="348.9" stroke="#333" stroke-width="1" />
<g transform="translate(148.72 355.6) rotate(-45)"><polygon points="-8.61,0 -7.14,0 -7.14,-7.52 -8.05,-7.52 -11.03,-5.51 -11.03,-4.18 -8.61,-5.8" fill="#000" stroke="#000" stroke-width="0.22"/><text x="-5.84" y="0" font-size="10.5" font-weight="bold" fill="#000" stroke="#000" stroke-width="0.22">3</text></g>
<line x1="154.76" y1="346.4" x2="154.76" y2="348.9" stroke="#333" stroke-width="1" />
<g transform="translate(156.96 355.6) rotate(-45)"><polygon points="-8.61,0 -7.14,0 -7.14,-7.52 -8.05,-7.52 -11.03,-5.51 -11.03,-4.18 -8.61,-5.8" fill="#000" stroke="#000" stroke-width="0.22"/><text x="-5.84" y="0" font-size="10.5" font-weight="bold" fill="#000" stroke="#000" stroke-width="0.22">4</text></g>
<line x1="163" y1="346.4" x2="163" y2="348.9" stroke="#333" stroke-width="1" />
<g transform="translate(165.2 355.6) rotate(-45)"><polygon points="-8.61,0 -7.14,0 -7.14,-7.52 -8.05,-7.52 -11.03,-5.51 -11.03,-4.18 -8.61,-5.8" fill="#000" stroke="#000" stroke-width="0.22"/><text x="-5.84" y="0" font-size="10.5" font-weight="bold" fill="#000" stroke="#000" stroke-width="0.22">5</text></g>
<line x1="37.3" y1="221" x2="46.7" y2="221" stroke="#1a87ff" stroke-width="1.2" />
<circle cx="41.9" cy="221" r="2.3" stroke="#1a87ff" fill="#1a87ff" stroke-width="1"/>
<text x="48.67" y="223.2" font-size="8.85" font-weight="bold" fill="#1a87ff" stroke="#1a87ff" stroke-width="0.22">Unvaccinated</text>
<polyline points="39.4,317.6 47.64,271.4 55.88,271.4 64.12,271.4 72.36,273.3 80.6,272.9 88.84,271.5" stroke="#1a87ff" fill="none" stroke-width="1.1"/>
<polyline points="39.4,319.8 47.64,273.7 55.88,274.6 64.12,261.1 72.36,265 80.6,272.9 88.84,257.5" stroke="#1a87ff" fill="none" stroke-width="1.1"/>
<polyline points="39.4,323.2 47.64,306.2 55.88,283 64.12,275.1 72.36,276.3 80.6,285.4 88.84,281.3" stroke="#1a87ff" fill="none" stroke-width="1.1"/>
<polyline points="39.4,326.2 47.64,311.2 55.88,278.4 64.12,305.8" stroke="#1a87ff" fill="none" stroke-width="1.1"/>
<polyline points="39.4,316.8 47.64,264.8" stroke="#1a87ff" fill="none" stroke-width="1.1"/>
<circle cx="39.4" cy="317.6" r="2.3" stroke="#1a87ff" fill="#fff" stroke-width="1.1"/>
<circle cx="47.64" cy="271.4" r="2.3" stroke="#1a87ff" fill="#fff" stroke-width="1.1"/>
<circle cx="55.88" cy="271.4" r="2.3" stroke="#1a87ff" fill="#fff" stroke-width="1.1"/>
<circle cx="64.12" cy="271.4" r="2.3" stroke="#1a87ff" fill="#fff" stroke-width="1.1"/>
<circle cx="72.36" cy="273.3" r="2.3" stroke="#1a87ff" fill="#fff" stroke-width="1.1"/>
<circle cx="80.6" cy="272.9" r="2.3" stroke="#1a87ff" fill="#fff" stroke-width="1.1"/>
<circle cx="88.84" cy="271.5" r="2.3" stroke="#1a87ff" fill="#fff" stroke-width="1.1"/>
<circle cx="39.4" cy="319.8" r="2.3" stroke="#1a87ff" fill="#fff" stroke-width="1.1"/>
<circle cx="47.64" cy="273.7" r="2.3" stroke="#1a87ff" fill="#fff" stroke-width="1.1"/>
<circle cx="55.88" cy="274.6" r="2.3" stroke="#1a87ff" fill="#fff" stroke-width="1.1"/>
<circle cx="64.12" cy="261.1" r="2.3" stroke="#1a87ff" fill="#fff" stroke-width="1.1"/>
<circle cx="72.36" cy="265" r="2.3" stroke="#1a87ff" fill="#fff" stroke-width="1.1"/>
<circle cx="80.6" cy="272.9" r="2.3" stroke="#1a87ff" fill="#fff" stroke-width="1.1"/>
<circle cx="88.84" cy="257.5" r="2.3" stroke="#1a87ff" fill="#fff" stroke-width="1.1"/>
<circle cx="39.4" cy="323.2" r="2.3" stroke="#1a87ff" fill="#fff" stroke-width="1.1"/>
<circle cx="47.64" cy="306.2" r="2.3" stroke="#1a87ff" fill="#fff" stroke-width="1.1"/>
<circle cx="55.88" cy="283" r="2.3" stroke="#1a87ff" fill="#fff" stroke-width="1.1"/>
<circle cx="64.12" cy="275.1" r="2.3" stroke="#1a87ff" fill="#fff" stroke-width="1.1"/>
<circle cx="72.36" cy="276.3" r="2.3" stroke="#1a87ff" fill="#fff" stroke-width="1.1"/>
<circle cx="80.6" cy="285.4" r="2.3" stroke="#1a87ff" fill="#fff" stroke-width="1.1"/>
<circle cx="88.84" cy="281.3" r="2.3" stroke="#1a87ff" fill="#fff" stroke-width="1.1"/>
<circle cx="39.4" cy="326.2" r="2.3" stroke="#1a87ff" fill="#fff" stroke-width="1.1"/>
<circle cx="47.64" cy="311.2" r="2.3" stroke="#1a87ff" fill="#fff" stroke-width="1.1"/>
<circle cx="55.88" cy="278.4" r="2.3" stroke="#1a87ff" fill="#fff" stroke-width="1.1"/>
<circle cx="64.12" cy="305.8" r="2.3" stroke="#1a87ff" fill="#fff" stroke-width="1.1"/>
<circle cx="39.4" cy="316.8" r="2.3" stroke="#1a87ff" fill="#fff" stroke-width="1.1"/>
<circle cx="47.64" cy="264.8" r="2.3" stroke="#1a87ff" fill="#fff" stroke-width="1.1"/>
<polyline points="90.3,249.6 93.5,249.6 93.5,311.9 90.3,311.9" stroke="#777" fill="none" stroke-width="1"/>
<line x1="93.5" y1="280.1" x2="95.7" y2="280.1" stroke="#777" stroke-width="1" />
<text x="99.6" y="279.8" font-size="6.66" font-weight="bold" fill="#000" stroke="#000" stroke-width="0.22">Study endpoint</text>
<text x="98.96" y="286.5" font-size="6.75" font-weight="bold" fill="#000" stroke="#000" stroke-width="0.22">reached (ALL)</text>
<line x1="175.5" y1="214.5" x2="307.5" y2="214.5" stroke="#444" stroke-width="1" />
<line x1="307.5" y1="214.5" x2="307.5" y2="346.5" stroke="#444" stroke-width="1" />
<line x1="175.5" y1="214" x2="175.5" y2="347" stroke="#555" stroke-width="1.2" />
<line x1="172.5" y1="346.5" x2="308" y2="346.5" stroke="#333" stroke-width="1.1" />
<line x1="172.3" y1="345.8" x2="175.3" y2="345.8" stroke="#333" stroke-width="1.2" />
<line x1="172.3" y1="319.4" x2="175.3" y2="319.4" stroke="#333" stroke-width="1.2" />
<line x1="172.3" y1="293" x2="175.3" y2="293" stroke="#333" stroke-width="1.2" />
<line x1="172.3" y1="266.6" x2="175.3" y2="266.6" stroke="#333" stroke-width="1.2" />
<line x1="172.3" y1="240.2" x2="175.3" y2="240.2" stroke="#333" stroke-width="1.2" />
<line x1="172.3" y1="213.8" x2="175.3" y2="213.8" stroke="#333" stroke-width="1.2" />
<line x1="175.3" y1="319.4" x2="307.3" y2="319.4" stroke="#777" stroke-width="0.8" stroke-dasharray="1.6 1.4"/>
<line x1="179.4" y1="346.4" x2="179.4" y2="348.9" stroke="#333" stroke-width="1" />
<g transform="translate(181.6 355.6) rotate(-45)"><text x="-5.84" y="0" font-size="10.5" font-weight="bold" fill="#000" stroke="#000" stroke-width="0.22">0</text></g>
<line x1="187.64" y1="346.4" x2="187.64" y2="348.9" stroke="#333" stroke-width="1" />
<g transform="translate(189.84 355.6) rotate(-45)"><polygon points="-2.77,0 -1.3,0 -1.3,-7.52 -2.22,-7.52 -5.19,-5.51 -5.19,-4.18 -2.77,-5.8" fill="#000" stroke="#000" stroke-width="0.22"/></g>
<line x1="195.88" y1="346.4" x2="195.88" y2="348.9" stroke="#333" stroke-width="1" />
<g transform="translate(198.08 355.6) rotate(-45)"><text x="-5.84" y="0" font-size="10.5" font-weight="bold" fill="#000" stroke="#000" stroke-width="0.22">2</text></g>
<line x1="204.12" y1="346.4" x2="204.12" y2="348.9" stroke="#333" stroke-width="1" />
<g transform="translate(206.32 355.6) rotate(-45)"><text x="-5.84" y="0" font-size="10.5" font-weight="bold" fill="#000" stroke="#000" stroke-width="0.22">3</text></g>
<line x1="212.36" y1="346.4" x2="212.36" y2="348.9" stroke="#333" stroke-width="1" />
<g transform="translate(214.56 355.6) rotate(-45)"><text x="-5.84" y="0" font-size="10.5" font-weight="bold" fill="#000" stroke="#000" stroke-width="0.22">4</text></g>
<line x1="220.6" y1="346.4" x2="220.6" y2="348.9" stroke="#333" stroke-width="1" />
<g transform="translate(222.8 355.6) rotate(-45)"><text x="-5.84" y="0" font-size="10.5" font-weight="bold" fill="#000" stroke="#000" stroke-width="0.22">5</text></g>
<line x1="228.84" y1="346.4" x2="228.84" y2="348.9" stroke="#333" stroke-width="1" />
<g transform="translate(231.04 355.6) rotate(-45)"><text x="-5.84" y="0" font-size="10.5" font-weight="bold" fill="#000" stroke="#000" stroke-width="0.22">6</text></g>
<line x1="237.08" y1="346.4" x2="237.08" y2="348.9" stroke="#333" stroke-width="1" />
<g transform="translate(239.28 355.6) rotate(-45)"><text x="-5.84" y="0" font-size="10.5" font-weight="bold" fill="#000" stroke="#000" stroke-width="0.22">7</text></g>
<line x1="245.32" y1="346.4" x2="245.32" y2="348.9" stroke="#333" stroke-width="1" />
<g transform="translate(247.52 355.6) rotate(-45)"><text x="-5.84" y="0" font-size="10.5" font-weight="bold" fill="#000" stroke="#000" stroke-width="0.22">8</text></g>
<line x1="253.56" y1="346.4" x2="253.56" y2="348.9" stroke="#333" stroke-width="1" />
<g transform="translate(255.76 355.6) rotate(-45)"><text x="-5.84" y="0" font-size="10.5" font-weight="bold" fill="#000" stroke="#000" stroke-width="0.22">9</text></g>
<line x1="261.8" y1="346.4" x2="261.8" y2="348.9" stroke="#333" stroke-width="1" />
<g transform="translate(264 355.6) rotate(-45)"><polygon points="-8.61,0 -7.14,0 -7.14,-7.52 -8.05,-7.52 -11.03,-5.51 -11.03,-4.18 -8.61,-5.8" fill="#000" stroke="#000" stroke-width="0.22"/><text x="-5.84" y="0" font-size="10.5" font-weight="bold" fill="#000" stroke="#000" stroke-width="0.22">0</text></g>
<line x1="270.04" y1="346.4" x2="270.04" y2="348.9" stroke="#333" stroke-width="1" />
<g transform="translate(272.24 355.6) rotate(-45)"><polygon points="-8.61,0 -7.14,0 -7.14,-7.52 -8.05,-7.52 -11.03,-5.51 -11.03,-4.18 -8.61,-5.8" fill="#000" stroke="#000" stroke-width="0.22"/><polygon points="-2.77,0 -1.3,0 -1.3,-7.52 -2.22,-7.52 -5.19,-5.51 -5.19,-4.18 -2.77,-5.8" fill="#000" stroke="#000" stroke-width="0.22"/></g>
<line x1="278.28" y1="346.4" x2="278.28" y2="348.9" stroke="#333" stroke-width="1" />
<g transform="translate(280.48 355.6) rotate(-45)"><polygon points="-8.61,0 -7.14,0 -7.14,-7.52 -8.05,-7.52 -11.03,-5.51 -11.03,-4.18 -8.61,-5.8" fill="#000" stroke="#000" stroke-width="0.22"/><text x="-5.84" y="0" font-size="10.5" font-weight="bold" fill="#000" stroke="#000" stroke-width="0.22">2</text></g>
<line x1="286.52" y1="346.4" x2="286.52" y2="348.9" stroke="#333" stroke-width="1" />
<g transform="translate(288.72 355.6) rotate(-45)"><polygon points="-8.61,0 -7.14,0 -7.14,-7.52 -8.05,-7.52 -11.03,-5.51 -11.03,-4.18 -8.61,-5.8" fill="#000" stroke="#000" stroke-width="0.22"/><text x="-5.84" y="0" font-size="10.5" font-weight="bold" fill="#000" stroke="#000" stroke-width="0.22">3</text></g>
<line x1="294.76" y1="346.4" x2="294.76" y2="348.9" stroke="#333" stroke-width="1" />
<g transform="translate(296.96 355.6) rotate(-45)"><polygon points="-8.61,0 -7.14,0 -7.14,-7.52 -8.05,-7.52 -11.03,-5.51 -11.03,-4.18 -8.61,-5.8" fill="#000" stroke="#000" stroke-width="0.22"/><text x="-5.84" y="0" font-size="10.5" font-weight="bold" fill="#000" stroke="#000" stroke-width="0.22">4</text></g>
<line x1="303" y1="346.4" x2="303" y2="348.9" stroke="#333" stroke-width="1" />
<g transform="translate(305.2 355.6) rotate(-45)"><polygon points="-8.61,0 -7.14,0 -7.14,-7.52 -8.05,-7.52 -11.03,-5.51 -11.03,-4.18 -8.61,-5.8" fill="#000" stroke="#000" stroke-width="0.22"/><text x="-5.84" y="0" font-size="10.5" font-weight="bold" fill="#000" stroke="#000" stroke-width="0.22">5</text></g>
<line x1="177.3" y1="221" x2="186.7" y2="221" stroke="#000" stroke-width="1.2" />
<circle cx="181.9" cy="221" r="2.3" stroke="#000" fill="#000" stroke-width="1"/>
<text x="188.64" y="223.2" font-size="9.03" font-weight="bold" fill="#000" stroke="#000" stroke-width="0.22">dd CyCMV/Flu</text>
<polyline points="179.4,316.3 187.64,262.8 195.88,300" stroke="#000" fill="none" stroke-width="1.1"/>
<polyline points="179.4,318.7 187.64,265.2 195.88,267 204.12,264" stroke="#000" fill="none" stroke-width="1.1"/>
<polyline points="179.4,316.3 187.64,306.7 195.88,262 204.12,274.6 212.36,283.4 220.6,262.3 228.84,251.7 237.08,264.5 245.32,269.3 253.56,310.8 261.8,315.6 270.04,320.4 278.28,314.7 286.52,321.1 294.76,318.7" stroke="#000" fill="none" stroke-width="1.1"/>
<polyline points="179.4,321.5 187.64,309.5 195.88,270 204.12,281 212.36,286.3 220.6,296.5 228.84,283.4 237.08,264.5 245.32,260.2 253.56,259.2 261.8,301.9 270.04,322 278.28,304.8 286.52,311.9 294.76,309.4" stroke="#000" fill="none" stroke-width="1.1"/>
<polyline points="179.4,325.1 187.64,312 195.88,276 204.12,289.8 212.36,288.2 220.6,270.3 228.84,270.6 237.08,290.6 245.32,298.1 253.56,315.6 261.8,322.8 270.04,324 278.28,316.9 286.52,323.3 294.76,324 303,332.5" stroke="#000" fill="none" stroke-width="1.1"/>
<polyline points="179.4,323 187.64,310 195.88,276 204.12,281 212.36,283.4 220.6,296.5 228.84,287 237.08,297 245.32,309.6 253.56,318.7 261.8,324.5 270.04,326.4 278.28,325.9 286.52,326.5 294.76,325.4" stroke="#000" fill="none" stroke-width="1.1"/>
<circle cx="179.4" cy="316.3" r="2.3" stroke="#000" fill="#fff" stroke-width="1.1"/>
<circle cx="187.64" cy="262.8" r="2.3" stroke="#000" fill="#fff" stroke-width="1.1"/>
<circle cx="195.88" cy="300" r="2.3" stroke="#000" fill="#fff" stroke-width="1.1"/>
<circle cx="179.4" cy="318.7" r="2.3" stroke="#000" fill="#fff" stroke-width="1.1"/>
<circle cx="187.64" cy="265.2" r="2.3" stroke="#000" fill="#fff" stroke-width="1.1"/>
<circle cx="195.88" cy="267" r="2.3" stroke="#000" fill="#fff" stroke-width="1.1"/>
<circle cx="204.12" cy="264" r="2.3" stroke="#000" fill="#fff" stroke-width="1.1"/>
<circle cx="179.4" cy="316.3" r="2.3" stroke="#000" fill="#000" stroke-width="1.1"/>
<circle cx="187.64" cy="306.7" r="2.3" stroke="#000" fill="#000" stroke-width="1.1"/>
<circle cx="195.88" cy="262" r="2.3" stroke="#000" fill="#000" stroke-width="1.1"/>
<circle cx="204.12" cy="274.6" r="2.3" stroke="#000" fill="#000" stroke-width="1.1"/>
<circle cx="212.36" cy="283.4" r="2.3" stroke="#000" fill="#000" stroke-width="1.1"/>
<circle cx="220.6" cy="262.3" r="2.3" stroke="#000" fill="#000" stroke-width="1.1"/>
<circle cx="228.84" cy="251.7" r="2.3" stroke="#000" fill="#000" stroke-width="1.1"/>
<circle cx="237.08" cy="264.5" r="2.3" stroke="#000" fill="#000" stroke-width="1.1"/>
<circle cx="245.32" cy="269.3" r="2.3" stroke="#000" fill="#000" stroke-width="1.1"/>
<circle cx="253.56" cy="310.8" r="2.3" stroke="#000" fill="#000" stroke-width="1.1"/>
<circle cx="261.8" cy="315.6" r="2.3" stroke="#000" fill="#000" stroke-width="1.1"/>
<circle cx="270.04" cy="320.4" r="2.3" stroke="#000" fill="#000" stroke-width="1.1"/>
<circle cx="278.28" cy="314.7" r="2.3" stroke="#000" fill="#000" stroke-width="1.1"/>
<circle cx="286.52" cy="321.1" r="2.3" stroke="#000" fill="#000" stroke-width="1.1"/>
<circle cx="294.76" cy="318.7" r="2.3" stroke="#000" fill="#000" stroke-width="1.1"/>
<circle cx="179.4" cy="321.5" r="2.3" stroke="#000" fill="#000" stroke-width="1.1"/>
<circle cx="187.64" cy="309.5" r="2.3" stroke="#000" fill="#000" stroke-width="1.1"/>
<circle cx="195.88" cy="270" r="2.3" stroke="#000" fill="#000" stroke-width="1.1"/>
<circle cx="204.12" cy="281" r="2.3" stroke="#000" fill="#000" stroke-width="1.1"/>
<circle cx="212.36" cy="286.3" r="2.3" stroke="#000" fill="#000" stroke-width="1.1"/>
<circle cx="220.6" cy="296.5" r="2.3" stroke="#000" fill="#000" stroke-width="1.1"/>
<circle cx="228.84" cy="283.4" r="2.3" stroke="#000" fill="#000" stroke-width="1.1"/>
<circle cx="237.08" cy="264.5" r="2.3" stroke="#000" fill="#000" stroke-width="1.1"/>
<circle cx="245.32" cy="260.2" r="2.3" stroke="#000" fill="#000" stroke-width="1.1"/>
<circle cx="253.56" cy="259.2" r="2.3" stroke="#000" fill="#000" stroke-width="1.1"/>
<circle cx="261.8" cy="301.9" r="2.3" stroke="#000" fill="#000" stroke-width="1.1"/>
<circle cx="270.04" cy="322" r="2.3" stroke="#000" fill="#000" stroke-width="1.1"/>
<circle cx="278.28" cy="304.8" r="2.3" stroke="#000" fill="#000" stroke-width="1.1"/>
<circle cx="286.52" cy="311.9" r="2.3" stroke="#000" fill="#000" stroke-width="1.1"/>
<circle cx="294.76" cy="309.4" r="2.3" stroke="#000" fill="#000" stroke-width="1.1"/>
<circle cx="179.4" cy="325.1" r="2.3" stroke="#000" fill="#000" stroke-width="1.1"/>
<circle cx="187.64" cy="312" r="2.3" stroke="#000" fill="#000" stroke-width="1.1"/>
<circle cx="195.88" cy="276" r="2.3" stroke="#000" fill="#000" stroke-width="1.1"/>
<circle cx="204.12" cy="289.8" r="2.3" stroke="#000" fill="#000" stroke-width="1.1"/>
<circle cx="212.36" cy="288.2" r="2.3" stroke="#000" fill="#000" stroke-width="1.1"/>
<circle cx="220.6" cy="270.3" r="2.3" stroke="#000" fill="#000" stroke-width="1.1"/>
<circle cx="228.84" cy="270.6" r="2.3" stroke="#000" fill="#000" stroke-width="1.1"/>
<circle cx="237.08" cy="290.6" r="2.3" stroke="#000" fill="#000" stroke-width="1.1"/>
<circle cx="245.32" cy="298.1" r="2.3" stroke="#000" fill="#000" stroke-width="1.1"/>
<circle cx="253.56" cy="315.6" r="2.3" stroke="#000" fill="#000" stroke-width="1.1"/>
<circle cx="261.8" cy="322.8" r="2.3" stroke="#000" fill="#000" stroke-width="1.1"/>
<circle cx="270.04" cy="324" r="2.3" stroke="#000" fill="#000" stroke-width="1.1"/>
<circle cx="278.28" cy="316.9" r="2.3" stroke="#000" fill="#000" stroke-width="1.1"/>
<circle cx="286.52" cy="323.3" r="2.3" stroke="#000" fill="#000" stroke-width="1.1"/>
<circle cx="294.76" cy="324" r="2.3" stroke="#000" fill="#000" stroke-width="1.1"/>
<circle cx="303" cy="332.5" r="2.3" stroke="#000" fill="#000" stroke-width="1.1"/>
<circle cx="179.4" cy="323" r="2.3" stroke="#000" fill="#000" stroke-width="1.1"/>
<circle cx="187.64" cy="310" r="2.3" stroke="#000" fill="#000" stroke-width="1.1"/>
<circle cx="195.88" cy="276" r="2.3" stroke="#000" fill="#000" stroke-width="1.1"/>
<circle cx="204.12" cy="281" r="2.3" stroke="#000" fill="#000" stroke-width="1.1"/>
<circle cx="212.36" cy="283.4" r="2.3" stroke="#000" fill="#000" stroke-width="1.1"/>
<circle cx="220.6" cy="296.5" r="2.3" stroke="#000" fill="#000" stroke-width="1.1"/>
<circle cx="228.84" cy="287" r="2.3" stroke="#000" fill="#000" stroke-width="1.1"/>
<circle cx="237.08" cy="297" r="2.3" stroke="#000" fill="#000" stroke-width="1.1"/>
<circle cx="245.32" cy="309.6" r="2.3" stroke="#000" fill="#000" stroke-width="1.1"/>
<circle cx="253.56" cy="318.7" r="2.3" stroke="#000" fill="#000" stroke-width="1.1"/>
<circle cx="261.8" cy="324.5" r="2.3" stroke="#000" fill="#000" stroke-width="1.1"/>
<circle cx="270.04" cy="326.4" r="2.3" stroke="#000" fill="#000" stroke-width="1.1"/>
<circle cx="278.28" cy="325.9" r="2.3" stroke="#000" fill="#000" stroke-width="1.1"/>
<circle cx="286.52" cy="326.5" r="2.3" stroke="#000" fill="#000" stroke-width="1.1"/>
<circle cx="294.76" cy="325.4" r="2.3" stroke="#000" fill="#000" stroke-width="1.1"/>
<line x1="315.5" y1="214.5" x2="447.5" y2="214.5" stroke="#444" stroke-width="1" />
<line x1="447.5" y1="214.5" x2="447.5" y2="346.5" stroke="#444" stroke-width="1" />
<line x1="315.5" y1="214" x2="315.5" y2="347" stroke="#555" stroke-width="1.2" />
<line x1="312.5" y1="346.5" x2="448" y2="346.5" stroke="#333" stroke-width="1.1" />
<line x1="312.3" y1="345.8" x2="315.3" y2="345.8" stroke="#333" stroke-width="1.2" />
<line x1="312.3" y1="319.4" x2="315.3" y2="319.4" stroke="#333" stroke-width="1.2" />
<line x1="312.3" y1="293" x2="315.3" y2="293" stroke="#333" stroke-width="1.2" />
<line x1="312.3" y1="266.6" x2="315.3" y2="266.6" stroke="#333" stroke-width="1.2" />
<line x1="312.3" y1="240.2" x2="315.3" y2="240.2" stroke="#333" stroke-width="1.2" />
<line x1="312.3" y1="213.8" x2="315.3" y2="213.8" stroke="#333" stroke-width="1.2" />
<line x1="315.3" y1="319.4" x2="447.3" y2="319.4" stroke="#777" stroke-width="0.8" stroke-dasharray="1.6 1.4"/>
<line x1="319.4" y1="346.4" x2="319.4" y2="348.9" stroke="#333" stroke-width="1" />
<g transform="translate(321.6 355.6) rotate(-45)"><text x="-5.84" y="0" font-size="10.5" font-weight="bold" fill="#000" stroke="#000" stroke-width="0.22">0</text></g>
<line x1="327.64" y1="346.4" x2="327.64" y2="348.9" stroke="#333" stroke-width="1" />
<g transform="translate(329.84 355.6) rotate(-45)"><polygon points="-2.77,0 -1.3,0 -1.3,-7.52 -2.22,-7.52 -5.19,-5.51 -5.19,-4.18 -2.77,-5.8" fill="#000" stroke="#000" stroke-width="0.22"/></g>
<line x1="335.88" y1="346.4" x2="335.88" y2="348.9" stroke="#333" stroke-width="1" />
<g transform="translate(338.08 355.6) rotate(-45)"><text x="-5.84" y="0" font-size="10.5" font-weight="bold" fill="#000" stroke="#000" stroke-width="0.22">2</text></g>
<line x1="344.12" y1="346.4" x2="344.12" y2="348.9" stroke="#333" stroke-width="1" />
<g transform="translate(346.32 355.6) rotate(-45)"><text x="-5.84" y="0" font-size="10.5" font-weight="bold" fill="#000" stroke="#000" stroke-width="0.22">3</text></g>
<line x1="352.36" y1="346.4" x2="352.36" y2="348.9" stroke="#333" stroke-width="1" />
<g transform="translate(354.56 355.6) rotate(-45)"><text x="-5.84" y="0" font-size="10.5" font-weight="bold" fill="#000" stroke="#000" stroke-width="0.22">4</text></g>
<line x1="360.6" y1="346.4" x2="360.6" y2="348.9" stroke="#333" stroke-width="1" />
<g transform="translate(362.8 355.6) rotate(-45)"><text x="-5.84" y="0" font-size="10.5" font-weight="bold" fill="#000" stroke="#000" stroke-width="0.22">5</text></g>
<line x1="368.84" y1="346.4" x2="368.84" y2="348.9" stroke="#333" stroke-width="1" />
<g transform="translate(371.04 355.6) rotate(-45)"><text x="-5.84" y="0" font-size="10.5" font-weight="bold" fill="#000" stroke="#000" stroke-width="0.22">6</text></g>
<line x1="377.08" y1="346.4" x2="377.08" y2="348.9" stroke="#333" stroke-width="1" />
<g transform="translate(379.28 355.6) rotate(-45)"><text x="-5.84" y="0" font-size="10.5" font-weight="bold" fill="#000" stroke="#000" stroke-width="0.22">7</text></g>
<line x1="385.32" y1="346.4" x2="385.32" y2="348.9" stroke="#333" stroke-width="1" />
<g transform="translate(387.52 355.6) rotate(-45)"><text x="-5.84" y="0" font-size="10.5" font-weight="bold" fill="#000" stroke="#000" stroke-width="0.22">8</text></g>
<line x1="393.56" y1="346.4" x2="393.56" y2="348.9" stroke="#333" stroke-width="1" />
<g transform="translate(395.76 355.6) rotate(-45)"><text x="-5.84" y="0" font-size="10.5" font-weight="bold" fill="#000" stroke="#000" stroke-width="0.22">9</text></g>
<line x1="401.8" y1="346.4" x2="401.8" y2="348.9" stroke="#333" stroke-width="1" />
<g transform="translate(404 355.6) rotate(-45)"><polygon points="-8.61,0 -7.14,0 -7.14,-7.52 -8.05,-7.52 -11.03,-5.51 -11.03,-4.18 -8.61,-5.8" fill="#000" stroke="#000" stroke-width="0.22"/><text x="-5.84" y="0" font-size="10.5" font-weight="bold" fill="#000" stroke="#000" stroke-width="0.22">0</text></g>
<line x1="410.04" y1="346.4" x2="410.04" y2="348.9" stroke="#333" stroke-width="1" />
<g transform="translate(412.24 355.6) rotate(-45)"><polygon points="-8.61,0 -7.14,0 -7.14,-7.52 -8.05,-7.52 -11.03,-5.51 -11.03,-4.18 -8.61,-5.8" fill="#000" stroke="#000" stroke-width="0.22"/><polygon points="-2.77,0 -1.3,0 -1.3,-7.52 -2.22,-7.52 -5.19,-5.51 -5.19,-4.18 -2.77,-5.8" fill="#000" stroke="#000" stroke-width="0.22"/></g>
<line x1="418.28" y1="346.4" x2="418.28" y2="348.9" stroke="#333" stroke-width="1" />
<g transform="translate(420.48 355.6) rotate(-45)"><polygon points="-8.61,0 -7.14,0 -7.14,-7.52 -8.05,-7.52 -11.03,-5.51 -11.03,-4.18 -8.61,-5.8" fill="#000" stroke="#000" stroke-width="0.22"/><text x="-5.84" y="0" font-size="10.5" font-weight="bold" fill="#000" stroke="#000" stroke-width="0.22">2</text></g>
<line x1="426.52" y1="346.4" x2="426.52" y2="348.9" stroke="#333" stroke-width="1" />
<g transform="translate(428.72 355.6) rotate(-45)"><polygon points="-8.61,0 -7.14,0 -7.14,-7.52 -8.05,-7.52 -11.03,-5.51 -11.03,-4.18 -8.61,-5.8" fill="#000" stroke="#000" stroke-width="0.22"/><text x="-5.84" y="0" font-size="10.5" font-weight="bold" fill="#000" stroke="#000" stroke-width="0.22">3</text></g>
<line x1="434.76" y1="346.4" x2="434.76" y2="348.9" stroke="#333" stroke-width="1" />
<g transform="translate(436.96 355.6) rotate(-45)"><polygon points="-8.61,0 -7.14,0 -7.14,-7.52 -8.05,-7.52 -11.03,-5.51 -11.03,-4.18 -8.61,-5.8" fill="#000" stroke="#000" stroke-width="0.22"/><text x="-5.84" y="0" font-size="10.5" font-weight="bold" fill="#000" stroke="#000" stroke-width="0.22">4</text></g>
<line x1="443" y1="346.4" x2="443" y2="348.9" stroke="#333" stroke-width="1" />
<g transform="translate(445.2 355.6) rotate(-45)"><polygon points="-8.61,0 -7.14,0 -7.14,-7.52 -8.05,-7.52 -11.03,-5.51 -11.03,-4.18 -8.61,-5.8" fill="#000" stroke="#000" stroke-width="0.22"/><text x="-5.84" y="0" font-size="10.5" font-weight="bold" fill="#000" stroke="#000" stroke-width="0.22">5</text></g>
<line x1="317.3" y1="221" x2="326.7" y2="221" stroke="#ff0a0a" stroke-width="1.2" />
<circle cx="321.9" cy="221" r="2.3" stroke="#ff0a0a" fill="#ff0a0a" stroke-width="1"/>
<text x="329.62" y="223.2" font-size="8.93" font-weight="bold" fill="#ff0a0a" stroke="#ff0a0a" stroke-width="0.22">FL CyCMV/Flu</text>
<polyline points="319.4,318.7 327.64,259.4 335.88,255.9 344.12,259.4 352.36,267 360.6,271.1 368.84,234.8 377.08,260.9 385.32,309.4 393.56,321 401.8,320.8 410.04,316 418.28,316.2 426.52,322.6 434.76,324.4" stroke="#ff0a0a" fill="none" stroke-width="1.1"/>
<polyline points="319.4,322.1 327.64,271.9 335.88,271.3 344.12,278.3 352.36,293.8 360.6,280.1 368.84,278.2 377.08,298.6 385.32,297 393.56,307.6 401.8,308.5 410.04,314.8 418.28,310.6 426.52,311.4 434.76,314.5 443,314.8" stroke="#ff0a0a" fill="none" stroke-width="1.1"/>
<polyline points="319.4,324.8 327.64,266.5 335.88,260.7 344.12,269.7" stroke="#ff0a0a" fill="none" stroke-width="1.1"/>
<polyline points="319.4,326.6 327.64,310.3 335.88,268.7 344.12,275.1" stroke="#ff0a0a" fill="none" stroke-width="1.1"/>
<polyline points="319.4,324 327.64,266.5 335.88,265.5 344.12,282" stroke="#ff0a0a" fill="none" stroke-width="1.1"/>
<circle cx="319.4" cy="318.7" r="2.3" stroke="#ff0a0a" fill="#ff0a0a" stroke-width="1.1"/>
<circle cx="327.64" cy="259.4" r="2.3" stroke="#ff0a0a" fill="#fff" stroke-width="1.1"/>
<circle cx="335.88" cy="255.9" r="2.3" stroke="#ff0a0a" fill="#ff0a0a" stroke-width="1.1"/>
<circle cx="344.12" cy="259.4" r="2.3" stroke="#ff0a0a" fill="#ff0a0a" stroke-width="1.1"/>
<circle cx="352.36" cy="267" r="2.3" stroke="#ff0a0a" fill="#ff0a0a" stroke-width="1.1"/>
<circle cx="360.6" cy="271.1" r="2.3" stroke="#ff0a0a" fill="#ff0a0a" stroke-width="1.1"/>
<circle cx="368.84" cy="234.8" r="2.3" stroke="#ff0a0a" fill="#ff0a0a" stroke-width="1.1"/>
<circle cx="377.08" cy="260.9" r="2.3" stroke="#ff0a0a" fill="#ff0a0a" stroke-width="1.1"/>
<circle cx="385.32" cy="309.4" r="2.3" stroke="#ff0a0a" fill="#ff0a0a" stroke-width="1.1"/>
<circle cx="393.56" cy="321" r="2.3" stroke="#ff0a0a" fill="#ff0a0a" stroke-width="1.1"/>
<circle cx="401.8" cy="320.8" r="2.3" stroke="#ff0a0a" fill="#ff0a0a" stroke-width="1.1"/>
<circle cx="410.04" cy="316" r="2.3" stroke="#ff0a0a" fill="#ff0a0a" stroke-width="1.1"/>
<circle cx="418.28" cy="316.2" r="2.3" stroke="#ff0a0a" fill="#ff0a0a" stroke-width="1.1"/>
<circle cx="426.52" cy="322.6" r="2.3" stroke="#ff0a0a" fill="#ff0a0a" stroke-width="1.1"/>
<circle cx="434.76" cy="324.4" r="2.3" stroke="#ff0a0a" fill="#ff0a0a" stroke-width="1.1"/>
<circle cx="319.4" cy="322.1" r="2.3" stroke="#ff0a0a" fill="#ff0a0a" stroke-width="1.1"/>
<circle cx="327.64" cy="271.9" r="2.3" stroke="#ff0a0a" fill="#ff0a0a" stroke-width="1.1"/>
<circle cx="335.88" cy="271.3" r="2.3" stroke="#ff0a0a" fill="#ff0a0a" stroke-width="1.1"/>
<circle cx="344.12" cy="278.3" r="2.3" stroke="#ff0a0a" fill="#ff0a0a" stroke-width="1.1"/>
<circle cx="352.36" cy="293.8" r="2.3" stroke="#ff0a0a" fill="#fff" stroke-width="1.1"/>
<circle cx="360.6" cy="280.1" r="2.3" stroke="#ff0a0a" fill="#ff0a0a" stroke-width="1.1"/>
<circle cx="368.84" cy="278.2" r="2.3" stroke="#ff0a0a" fill="#ff0a0a" stroke-width="1.1"/>
<circle cx="377.08" cy="298.6" r="2.3" stroke="#ff0a0a" fill="#ff0a0a" stroke-width="1.1"/>
<circle cx="385.32" cy="297" r="2.3" stroke="#ff0a0a" fill="#ff0a0a" stroke-width="1.1"/>
<circle cx="393.56" cy="307.6" r="2.3" stroke="#ff0a0a" fill="#ff0a0a" stroke-width="1.1"/>
<circle cx="401.8" cy="308.5" r="2.3" stroke="#ff0a0a" fill="#ff0a0a" stroke-width="1.1"/>
<circle cx="410.04" cy="314.8" r="2.3" stroke="#ff0a0a" fill="#ff0a0a" stroke-width="1.1"/>
<circle cx="418.28" cy="310.6" r="2.3" stroke="#ff0a0a" fill="#ff0a0a" stroke-width="1.1"/>
<circle cx="426.52" cy="311.4" r="2.3" stroke="#ff0a0a" fill="#ff0a0a" stroke-width="1.1"/>
<circle cx="434.76" cy="314.5" r="2.3" stroke="#ff0a0a" fill="#ff0a0a" stroke-width="1.1"/>
<circle cx="443" cy="314.8" r="2.3" stroke="#ff0a0a" fill="#ff0a0a" stroke-width="1.1"/>
<circle cx="319.4" cy="324.8" r="2.3" stroke="#ff0a0a" fill="#fff" stroke-width="1.1"/>
<circle cx="327.64" cy="266.5" r="2.3" stroke="#ff0a0a" fill="#fff" stroke-width="1.1"/>
<circle cx="335.88" cy="260.7" r="2.3" stroke="#ff0a0a" fill="#fff" stroke-width="1.1"/>
<circle cx="344.12" cy="269.7" r="2.3" stroke="#ff0a0a" fill="#fff" stroke-width="1.1"/>
<circle cx="319.4" cy="326.6" r="2.3" stroke="#ff0a0a" fill="#fff" stroke-width="1.1"/>
<circle cx="327.64" cy="310.3" r="2.3" stroke="#ff0a0a" fill="#fff" stroke-width="1.1"/>
<circle cx="335.88" cy="268.7" r="2.3" stroke="#ff0a0a" fill="#fff" stroke-width="1.1"/>
<circle cx="344.12" cy="275.1" r="2.3" stroke="#ff0a0a" fill="#fff" stroke-width="1.1"/>
<circle cx="319.4" cy="324" r="2.3" stroke="#ff0a0a" fill="#fff" stroke-width="1.1"/>
<circle cx="327.64" cy="266.5" r="2.3" stroke="#ff0a0a" fill="#fff" stroke-width="1.1"/>
<circle cx="335.88" cy="265.5" r="2.3" stroke="#ff0a0a" fill="#fff" stroke-width="1.1"/>
<circle cx="344.12" cy="282" r="2.3" stroke="#ff0a0a" fill="#fff" stroke-width="1.1"/>
<text x="179.8" y="372.6" font-size="9.93" font-weight="bold" fill="#000" stroke="#000" stroke-width="0.22">Time post-infection (days)</text>
<text transform="translate(7.5 322.7) rotate(-90)" x="0" y="0" font-size="10.45" font-weight="bold" fill="#000" stroke="#000" stroke-width="0.22">Temperature (ºC)</text>
<text transform="translate(20.3 338.52) rotate(-90)" x="0" y="0" font-size="10.36" font-weight="bold" fill="#000" stroke="#000" stroke-width="0.22">(Change from baseline)</text>
<line x1="501.5" y1="212.5" x2="683.5" y2="212.5" stroke="#555" stroke-width="1" />
<line x1="683.5" y1="212.5" x2="683.5" y2="344.5" stroke="#555" stroke-width="1" />
<line x1="501.5" y1="212" x2="501.5" y2="345" stroke="#333" stroke-width="1.1" />
<line x1="501" y1="344.5" x2="684" y2="344.5" stroke="#333" stroke-width="1.1" />
<line x1="498.5" y1="344.6" x2="501.5" y2="344.6" stroke="#333" stroke-width="1.2" />
<g transform="translate(497.2 348.1)"><text x="-5.34" y="0" font-size="9.6" font-weight="bold" fill="#000" stroke="#000" stroke-width="0.22">0</text></g>
<line x1="498.5" y1="320.6" x2="501.5" y2="320.6" stroke="#333" stroke-width="1.2" />
<g transform="translate(497.2 324.1)"><text x="-10.68" y="0" font-size="9.6" font-weight="bold" fill="#000" stroke="#000" stroke-width="0.22">2</text><text x="-5.34" y="0" font-size="9.6" font-weight="bold" fill="#000" stroke="#000" stroke-width="0.22">0</text></g>
<line x1="498.5" y1="296.6" x2="501.5" y2="296.6" stroke="#333" stroke-width="1.2" />
<g transform="translate(497.2 300.1)"><text x="-10.68" y="0" font-size="9.6" font-weight="bold" fill="#000" stroke="#000" stroke-width="0.22">4</text><text x="-5.34" y="0" font-size="9.6" font-weight="bold" fill="#000" stroke="#000" stroke-width="0.22">0</text></g>
<line x1="498.5" y1="272.6" x2="501.5" y2="272.6" stroke="#333" stroke-width="1.2" />
<g transform="translate(497.2 276.1)"><text x="-10.68" y="0" font-size="9.6" font-weight="bold" fill="#000" stroke="#000" stroke-width="0.22">6</text><text x="-5.34" y="0" font-size="9.6" font-weight="bold" fill="#000" stroke="#000" stroke-width="0.22">0</text></g>
<line x1="498.5" y1="248.6" x2="501.5" y2="248.6" stroke="#333" stroke-width="1.2" />
<g transform="translate(497.2 252.1)"><text x="-10.68" y="0" font-size="9.6" font-weight="bold" fill="#000" stroke="#000" stroke-width="0.22">8</text><text x="-5.34" y="0" font-size="9.6" font-weight="bold" fill="#000" stroke="#000" stroke-width="0.22">0</text></g>
<line x1="498.5" y1="224.6" x2="501.5" y2="224.6" stroke="#333" stroke-width="1.2" />
<g transform="translate(497.2 228.1)"><polygon points="-13.21,0 -11.87,0 -11.87,-6.87 -12.7,-6.87 -15.42,-5.04 -15.42,-3.82 -13.21,-5.3" fill="#000" stroke="#000" stroke-width="0.22"/><text x="-10.68" y="0" font-size="9.6" font-weight="bold" fill="#000" stroke="#000" stroke-width="0.22">0</text><text x="-5.34" y="0" font-size="9.6" font-weight="bold" fill="#000" stroke="#000" stroke-width="0.22">0</text></g>
<line x1="501.5" y1="344.6" x2="501.5" y2="347.6" stroke="#333" stroke-width="1" />
<g transform="translate(504.7 355.7) rotate(-45)"><text x="-5.84" y="0" font-size="10.5" font-weight="bold" fill="#000" stroke="#000" stroke-width="0.22">0</text></g>
<line x1="544.5" y1="344.6" x2="544.5" y2="347.6" stroke="#333" stroke-width="1" />
<g transform="translate(547.7 355.7) rotate(-45)"><text x="-5.84" y="0" font-size="10.5" font-weight="bold" fill="#000" stroke="#000" stroke-width="0.22">4</text></g>
<line x1="587.5" y1="344.6" x2="587.5" y2="347.6" stroke="#333" stroke-width="1" />
<g transform="translate(590.7 355.7) rotate(-45)"><text x="-5.84" y="0" font-size="10.5" font-weight="bold" fill="#000" stroke="#000" stroke-width="0.22">8</text></g>
<line x1="630.5" y1="344.6" x2="630.5" y2="347.6" stroke="#333" stroke-width="1" />
<g transform="translate(633.7 355.7) rotate(-45)"><polygon points="-8.61,0 -7.14,0 -7.14,-7.52 -8.05,-7.52 -11.03,-5.51 -11.03,-4.18 -8.61,-5.8" fill="#000" stroke="#000" stroke-width="0.22"/><text x="-5.84" y="0" font-size="10.5" font-weight="bold" fill="#000" stroke="#000" stroke-width="0.22">2</text></g>
<line x1="673.5" y1="344.6" x2="673.5" y2="347.6" stroke="#333" stroke-width="1" />
<g transform="translate(676.7 355.7) rotate(-45)"><polygon points="-8.61,0 -7.14,0 -7.14,-7.52 -8.05,-7.52 -11.03,-5.51 -11.03,-4.18 -8.61,-5.8" fill="#000" stroke="#000" stroke-width="0.22"/><text x="-5.84" y="0" font-size="10.5" font-weight="bold" fill="#000" stroke="#000" stroke-width="0.22">6</text></g>
<text x="537.1" y="369.4" font-size="9.95" font-weight="bold" fill="#000" stroke="#000" stroke-width="0.22">Time post-infection (days)</text>
<text transform="translate(481 317.44) rotate(-90)" x="0" y="0" font-size="9.88" font-weight="bold" fill="#000" stroke="#000" stroke-width="0.22">Percent survival</text>
<polyline points="501.5,224.6 523,224.6 523,244.64 533.75,244.64 533.75,264.56 544.5,264.56 544.5,284.6 566,284.6 566,324.56 576.75,324.56 576.75,344.6" stroke="#1a87ff" fill="none" stroke-width="1.05"/>
<circle cx="523" cy="245" r="1.6" stroke="#1a87ff" fill="#1a87ff" stroke-width="0"/>
<circle cx="534" cy="265" r="1.6" stroke="#1a87ff" fill="#1a87ff" stroke-width="0"/>
<circle cx="544" cy="285" r="1.6" stroke="#1a87ff" fill="#1a87ff" stroke-width="0"/>
<circle cx="566" cy="325" r="1.6" stroke="#1a87ff" fill="#1a87ff" stroke-width="0"/>
<circle cx="577" cy="345" r="1.6" stroke="#1a87ff" fill="#1a87ff" stroke-width="0"/>
<polyline points="501.5,224.6 533.75,224.6 533.75,235.52 544.5,235.52 544.5,268.28 555.25,268.28 555.25,279.2 662.75,279.2" stroke="#ff5cff" fill="none" stroke-width="1.05"/>
<circle cx="534" cy="236" r="1.6" stroke="#ff5cff" fill="#ff5cff" stroke-width="0"/>
<circle cx="544" cy="268" r="1.6" stroke="#ff5cff" fill="#ff5cff" stroke-width="0"/>
<circle cx="555" cy="279" r="1.6" stroke="#ff5cff" fill="#ff5cff" stroke-width="0"/>
<circle cx="663" cy="279" r="1.6" stroke="#ff5cff" fill="#ff5cff" stroke-width="0"/>
<polyline points="501.5,224.6 544.5,224.6 544.5,272.6 555.25,272.6 555.25,296.6 662.75,296.6" stroke="#ff0a0a" fill="none" stroke-width="1.05"/>
<circle cx="544" cy="273" r="1.6" stroke="#ff0a0a" fill="#ff0a0a" stroke-width="0"/>
<circle cx="555" cy="297" r="1.6" stroke="#ff0a0a" fill="#ff0a0a" stroke-width="0"/>
<circle cx="663" cy="297" r="1.6" stroke="#ff0a0a" fill="#ff0a0a" stroke-width="0"/>
<polyline points="501.5,224.6 533.75,224.6 533.75,244.64 544.5,244.64 544.5,264.56 662.75,264.56" stroke="#000" fill="none" stroke-width="1.05"/>
<circle cx="534" cy="245" r="1.6" stroke="#000" fill="#000" stroke-width="0"/>
<circle cx="544" cy="265" r="1.6" stroke="#000" fill="#000" stroke-width="0"/>
<circle cx="663" cy="265" r="1.6" stroke="#000" fill="#000" stroke-width="0"/>
<text x="622.16" y="220.7" font-size="8.94" font-weight="bold" fill="#1a87ff" stroke="#1a87ff" stroke-width="0.22">Unvaccinated</text>
<text x="619.84" y="229.9" font-size="8.92" font-weight="bold" fill="#000" stroke="#000" stroke-width="0.22">dd CyCMV/Flu</text>
<text x="620.22" y="238.9" font-size="8.88" font-weight="bold" fill="#ff0a0a" stroke="#ff0a0a" stroke-width="0.22">FL CyCMV/Flu</text>
<text x="586.18" y="248.3" font-size="8.96" font-weight="bold" fill="#ff5cff" stroke="#ff5cff" stroke-width="0.22">All CyCMV-vaccinated</text>
<text x="645.72" y="262.3" font-size="8.97" font-weight="bold" fill="#000" stroke="#000" stroke-width="0.22">P=0,042</text>
<text x="646.68" y="276" font-size="8.7" font-weight="bold" fill="#ff5cff" stroke="#ff5cff" stroke-width="0.22">P=0,049</text>
<text x="646.64" y="294.4" font-size="8.7" font-weight="bold" fill="#ff0a0a" stroke="#ff0a0a" stroke-width="0.22">P=0,248</text>
</svg></div>
</body></html>
